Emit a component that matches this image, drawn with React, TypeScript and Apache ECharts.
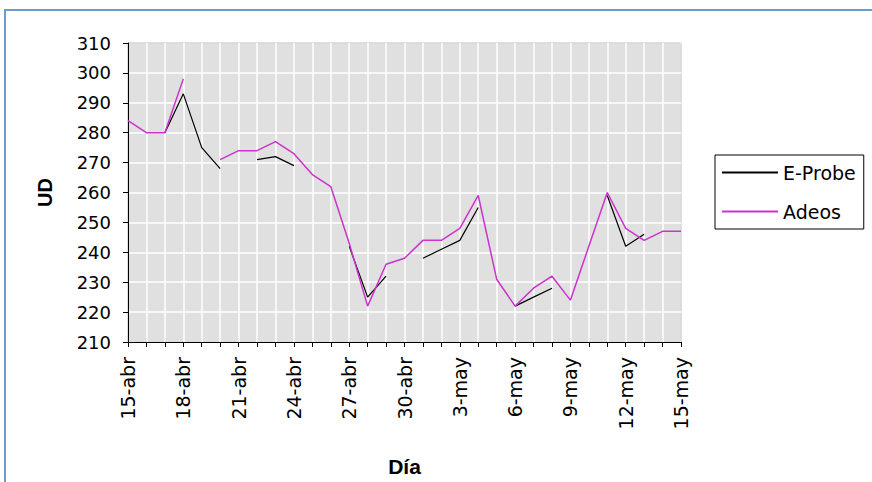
import React, { useEffect, useRef } from "react";
import * as echarts from "echarts";

const days: string[] = [
  "15-abr", "16-abr", "17-abr", "18-abr", "19-abr", "20-abr", "21-abr", "22-abr",
  "23-abr", "24-abr", "25-abr", "26-abr", "27-abr", "28-abr", "29-abr", "30-abr",
  "1-may", "2-may", "3-may", "4-may", "5-may", "6-may", "7-may", "8-may",
  "9-may", "10-may", "11-may", "12-may", "13-may", "14-may", "15-may",
];

const eProbe: (number | null)[] = [
  null, null, 280, 293, 275, 268, null, 271,
  272, 269, null, null, 242, 225, 232, null,
  238, 241, 244, 255, null, 222, 225, 228,
  null, null, 259, 242, 246, null, null,
];

const adeos: (number | null)[] = [
  284, 280, 280, 298, null, 271, 274, 274,
  277, 273, 266, 262, 243, 222, 236, 238,
  244, 244, 248, 259, 231, 222, 228, 232,
  224, 242, 260, 248, 244, 247, 247,
];

const yTicks = { min: 210, max: 310, step: 10 };

const FONT = "'Liberation Sans', Arial, sans-serif";
const LABEL_FONT = "'DejaVu Sans', sans-serif";

export default function App() {
  const ref = useRef<HTMLDivElement>(null);
  useEffect(() => {
    if (!ref.current) return;
    const chart = echarts.init(ref.current, undefined, { renderer: "svg" });
    chart.setOption({
      animation: false,
      backgroundColor: "#ffffff",
      textStyle: { fontFamily: FONT },
      graphic: [
        {
          type: "rect",
          shape: { x: 5, y: 10, width: 900, height: 500 },
          style: { fill: "none", stroke: "#6d9bd1", lineWidth: 2 },
          silent: true,
        },
      ],
      grid: {
        left: 128,
        top: 43,
        width: 553,
        height: 311,
        show: true,
        backgroundColor: "#e0e0e0",
        borderColor: "#000000",
        borderWidth: 1,
      },
      legend: {
        orient: "vertical",
        left: 715,
        top: 155,
        borderColor: "#000000",
        borderWidth: 1,
        padding: [8, 8, 8, 7],
        itemGap: 20,
        itemWidth: 56,
        itemHeight: 2,
        icon: "rect",
        textStyle: { fontSize: 19, color: "#000", fontFamily: LABEL_FONT },
        data: ["E-Probe", "Adeos"],
      },
      xAxis: {
        type: "category",
        data: days,
        boundaryGap: false,
        name: "Día",
        nameLocation: "middle",
        nameGap: 114,
        nameTextStyle: { fontSize: 21, fontWeight: "bold", color: "#000", fontFamily: FONT },
        axisLine: { lineStyle: { color: "#000", width: 1 } },
        axisTick: { show: true, interval: 0, length: 5, lineStyle: { color: "#000" } },
        axisLabel: {
          interval: 2,
          rotate: 90,
          margin: 15,
          fontSize: 19,
          color: "#000",
          fontFamily: LABEL_FONT,
        },
        splitLine: { show: true, interval: 0, lineStyle: { color: "#ffffff", width: 1.5 } },
      },
      yAxis: {
        type: "value",
        min: yTicks.min,
        max: yTicks.max,
        interval: yTicks.step,
        name: "UD",
        nameLocation: "middle",
        nameGap: 73,
        nameTextStyle: { fontSize: 20, fontWeight: "bold", color: "#000", fontFamily: FONT },
        axisLine: { show: true, lineStyle: { color: "#000", width: 1 } },
        axisTick: { show: true, length: 5, lineStyle: { color: "#000" } },
        axisLabel: { margin: 17, fontSize: 18, color: "#000", fontFamily: LABEL_FONT },
        splitLine: { show: true, lineStyle: { color: "#ffffff", width: 1.5 } },
      },
      series: [
        {
          name: "E-Probe",
          type: "line",
          data: eProbe,
          symbol: "none",
          connectNulls: false,
          lineStyle: { color: "#000000", width: 1.2 },
          itemStyle: { color: "#000000" },
        },
        {
          name: "Adeos",
          type: "line",
          data: adeos,
          symbol: "none",
          connectNulls: false,
          lineStyle: { color: "#cc33cc", width: 1.5 },
          itemStyle: { color: "#cc33cc" },
        },
      ],
    });
    return () => chart.dispose();
  }, []);
  return (
    <div
      ref={ref}
      style={{ position: "fixed", left: 0, top: 0, width: 872, height: 482 }}
    />
  );
}
